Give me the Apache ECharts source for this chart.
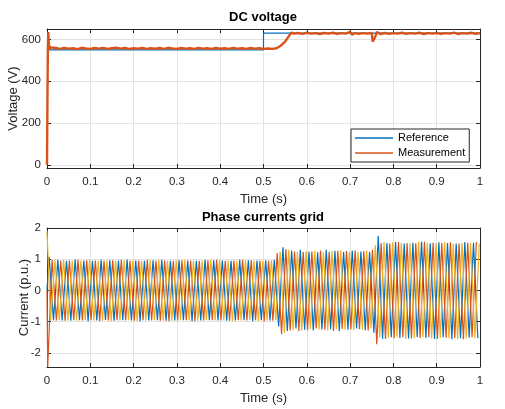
<!DOCTYPE html>
<html>
<head>
<meta charset="utf-8">
<script src="https://cdn.jsdelivr.net/npm/echarts@6/dist/echarts.min.js"></script>
<style>
  html, body { margin: 0; padding: 0; background: #fff; }
  #chart { width: 505px; height: 409px; }
</style>
</head>
<body>
<div id="chart"></div>
<script>
// DC voltage: reference step and measured voltage [time s, volts]
var dcReference = [[0, 550], [0.5, 550], [0.5, 630], [1, 630]];
var dcMeasurement = [
  [0, 0], [0.001, 300], [0.002, 560], [0.003, 635], [0.004, 590], [0.006, 552], [0.008, 562], [0.01, 556],
  [0.02, 559], [0.03, 555], [0.04, 560], [0.05, 556], [0.06, 558], [0.07, 554], [0.08, 560], [0.09, 557], [0.10, 555],
  [0.11, 559], [0.12, 556], [0.13, 560], [0.14, 555], [0.15, 558], [0.16, 561], [0.17, 556], [0.18, 559], [0.19, 555], [0.20, 558],
  [0.21, 556], [0.22, 560], [0.23, 555], [0.24, 558], [0.25, 556], [0.26, 559], [0.27, 555], [0.28, 560], [0.29, 557], [0.30, 555],
  [0.31, 559], [0.32, 556], [0.33, 558], [0.34, 555], [0.35, 560], [0.36, 556], [0.37, 558], [0.38, 555], [0.39, 559], [0.40, 556],
  [0.41, 558], [0.42, 555], [0.43, 560], [0.44, 556], [0.45, 558], [0.46, 555], [0.47, 559], [0.48, 556], [0.49, 558], [0.50, 555],
  [0.51, 557], [0.52, 555], [0.53, 558], [0.54, 570], [0.55, 590], [0.555, 605], [0.56, 620], [0.565, 633], [0.57, 628],
  [0.58, 631], [0.59, 627], [0.60, 632], [0.61, 628], [0.62, 630], [0.63, 626], [0.64, 631], [0.65, 628], [0.66, 632],
  [0.67, 627], [0.68, 630], [0.69, 628], [0.70, 636], [0.705, 622], [0.71, 631], [0.72, 627], [0.73, 630], [0.74, 628],
  [0.75, 631], [0.752, 590], [0.755, 584], [0.758, 612], [0.762, 636], [0.77, 626], [0.78, 631], [0.79, 627], [0.80, 630],
  [0.81, 628], [0.82, 632], [0.83, 627], [0.84, 630], [0.85, 628], [0.86, 632], [0.87, 626], [0.88, 630], [0.89, 628], [0.90, 631],
  [0.91, 627], [0.92, 630], [0.93, 628], [0.94, 633], [0.95, 626], [0.96, 630], [0.97, 628], [0.98, 632], [0.99, 627], [1.0, 630]
];

// grid currents: times of the half-cycle peaks of phase a (50 Hz), shift of each phase
var halfCycleT = [
  0.005, 0.015, 0.025, 0.035, 0.045, 0.055, 0.065, 0.075, 0.085, 0.095,
  0.105, 0.115, 0.125, 0.135, 0.145, 0.155, 0.165, 0.175, 0.185, 0.195,
  0.205, 0.215, 0.225, 0.235, 0.245, 0.255, 0.265, 0.275, 0.285, 0.295,
  0.305, 0.315, 0.325, 0.335, 0.345, 0.355, 0.365, 0.375, 0.385, 0.395,
  0.405, 0.415, 0.425, 0.435, 0.445, 0.455, 0.465, 0.475, 0.485, 0.495,
  0.505, 0.515, 0.525, 0.535, 0.545, 0.555, 0.565, 0.575, 0.585, 0.595,
  0.605, 0.615, 0.625, 0.635, 0.645, 0.655, 0.665, 0.675, 0.685, 0.695,
  0.705, 0.715, 0.725, 0.735, 0.745, 0.755, 0.765, 0.775, 0.785, 0.795,
  0.805, 0.815, 0.825, 0.835, 0.845, 0.855, 0.865, 0.875, 0.885, 0.895,
  0.905, 0.915, 0.925, 0.935, 0.945, 0.955, 0.965, 0.975, 0.985, 0.995
];
var phaseShift = [0, -0.00333, 0.00333];
var phaseStart = [0, 0, 1.9];   // value at t = 0

// peak values (p.u.) read per half cycle
var peaksA = [
  1.08, -0.95, 0.98, -0.96, 0.95, -0.97, 0.99, -0.95, 0.96, -0.98,
  0.95, -0.96, 0.98, -0.94, 0.97, -0.97, 0.96, -0.95, 0.99, -0.96,
  0.96, -0.98, 0.95, -0.96, 0.97, -0.95, 0.98, -0.97, 0.95, -0.96,
  0.97, -0.95, 0.96, -0.98, 0.95, -0.96, 0.98, -0.95, 0.97, -0.96,
  0.96, -0.97, 0.95, -0.96, 0.98, -0.95, 0.97, -0.98, 0.96, -0.95,
  0.97, -0.96, 0.98, -1.15, 1.38, -1.30, 1.28, -1.22, 1.30, -1.26,
  1.24, -1.28, 1.22, -1.25, 1.30, -1.24, 1.27, -1.30, 1.23, -1.26,
  1.28, -1.22, 1.25, -1.27, 1.24, -1.35, 1.75, -1.55, 1.52, -1.50,
  1.55, -1.52, 1.50, -1.54, 1.53, -1.50, 1.56, -1.52, 1.51, -1.55,
  1.54, -1.50, 1.52, -1.56, 1.50, -1.53, 1.55, -1.51, 1.53, -1.52
];
var peaksB = [
  -2.45, 0.98, -0.96, 0.95, -0.97, 0.96, -0.95, 0.98, -0.96, 0.97,
  -0.95, 0.96, -0.98, 0.95, -0.96, 0.97, -0.95, 0.98, -0.96, 0.95,
  -0.97, 0.96, -0.95, 0.98, -0.96, 0.95, -0.97, 0.96, -0.98, 0.95,
  -0.96, 0.97, -0.95, 0.96, -0.98, 0.95, -0.96, 0.97, -0.95, 0.98,
  -0.96, 0.95, -0.97, 0.96, -0.95, 0.98, -0.96, 0.97, -0.95, 0.96,
  -0.98, 0.95, -0.97, 1.20, -1.40, 1.32, -1.28, 1.25, -1.30, 1.24,
  -1.27, 1.25, -1.22, 1.28, -1.26, 1.24, -1.30, 1.27, -1.23, 1.26,
  -1.25, 1.29, -1.24, 1.26, -1.28, 1.30, -1.72, 1.52, -1.55, 1.50,
  -1.53, 1.55, -1.50, 1.52, -1.54, 1.51, -1.52, 1.56, -1.50, 1.53,
  -1.55, 1.52, -1.51, 1.54, -1.52, 1.50, -1.56, 1.53, -1.50, 1.55
];
var peaksC = [
  -0.96, 0.97, -0.95, 0.98, -0.96, 0.95, -0.97, 0.96, -0.95, 0.98,
  -0.96, 0.95, -0.97, 0.96, -0.98, 0.95, -0.96, 0.97, -0.95, 0.96,
  -0.98, 0.95, -0.96, 0.97, -0.95, 0.98, -0.96, 0.95, -0.97, 0.96,
  -0.95, 0.98, -0.96, 0.95, -0.97, 0.96, -0.95, 0.98, -0.96, 0.97,
  -0.95, 0.96, -0.98, 0.95, -0.96, 0.97, -0.95, 0.96, -0.98, 0.95,
  -0.96, 0.97, -0.95, 1.25, -1.35, 1.30, -1.27, 1.24, -1.28, 1.26,
  -1.23, 1.27, -1.25, 1.22, -1.28, 1.26, -1.24, 1.29, -1.25, 1.23,
  -1.27, 1.24, -1.26, 1.28, -1.22, 1.45, -1.50, 1.55, -1.52, 1.54,
  -1.50, 1.53, -1.55, 1.51, -1.52, 1.56, -1.50, 1.53, -1.54, 1.52,
  -1.51, 1.55, -1.53, 1.50, -1.56, 1.52, -1.54, 1.51, -1.53, 1.50
];

var phaseColors = ['#0072BD', '#D95319', '#EDB120'];
var axisColor = '#262626';
var gridColor = '#e3e3e3';
var font = 'Liberation Sans, Arial, sans-serif';

function phasePoints(peaks, p) {
  var pts = [[0, phaseStart[p]]];
  for (var i = 0; i < peaks.length; i++) {
    pts.push([halfCycleT[i] + phaseShift[p], peaks[i]]);
  }
  return pts;
}

var chart = echarts.init(document.getElementById('chart'), null, { renderer: 'canvas' });

function xAx(gi, pos) {
  var bottom = pos === 'bottom';
  return {
    type: 'value', gridIndex: gi, position: pos, min: 0, max: 1, interval: 0.1,
    name: bottom ? 'Time (s)' : '', nameLocation: 'middle', nameGap: 25, nameMoveOverlap: false,
    nameTextStyle: { color: axisColor, fontSize: 13, fontFamily: font },
    axisLine: { show: true, onZero: false, lineStyle: { color: axisColor, width: 1 } },
    axisTick: { show: true, inside: true, length: 4, lineStyle: { color: axisColor } },
    axisLabel: { show: bottom, color: axisColor, fontSize: 11.5, margin: 8, fontFamily: font },
    splitLine: { show: bottom, lineStyle: { color: gridColor, width: 1 } }
  };
}

function yAx(gi, pos, min, max, split, name, gap) {
  var left = pos === 'left';
  return {
    type: 'value', gridIndex: gi, position: pos, min: min, max: max, splitNumber: split,
    name: left ? name : '', nameLocation: 'middle', nameGap: gap, nameMoveOverlap: false,
    nameTextStyle: { color: axisColor, fontSize: 13, fontFamily: font },
    axisLine: { show: true, onZero: false, lineStyle: { color: axisColor, width: 1 } },
    axisTick: { show: true, inside: true, length: 4, lineStyle: { color: axisColor } },
    axisLabel: { show: left, color: axisColor, fontSize: 11.5, margin: 6, showMinLabel: false,
      showMaxLabel: max === 2, fontFamily: font },
    splitLine: { show: left, lineStyle: { color: gridColor, width: 1 } }
  };
}

var currentSeries = [peaksA, peaksB, peaksC].map(function (pk, p) {
  return {
    type: 'line', xAxisIndex: 2, yAxisIndex: 2, data: phasePoints(pk, p),
    symbol: 'none', lineStyle: { color: phaseColors[p], width: 1.2 }, z: 2 + p
  };
});

var option = {
  animation: false,
  backgroundColor: '#fff',
  textStyle: { fontFamily: font },
  title: [
    { text: 'DC voltage', left: 263, top: 11, padding: 0, textAlign: 'center',
      textStyle: { fontSize: 13, fontWeight: 'bold', color: '#000', fontFamily: font } },
    { text: 'Phase currents grid', left: 263, top: 211, padding: 0, textAlign: 'center',
      textStyle: { fontSize: 13, fontWeight: 'bold', color: '#000', fontFamily: font } }
  ],
  legend: {
    data: ['Reference', 'Measurement'], orient: 'vertical',
    left: 351, top: 129, padding: [2, 4, 2, 4], itemGap: 1,
    icon: 'rect', itemWidth: 38, itemHeight: 1.4,
    backgroundColor: '#fff', borderColor: axisColor, borderWidth: 1,
    textStyle: { fontSize: 11, color: '#000', height: 14, lineHeight: 14, fontFamily: font }
  },
  grid: [
    { left: 47, top: 29, width: 433, height: 139, containLabel: false, outerBoundsMode: 'none' },
    { left: 47, top: 228, width: 433, height: 139, containLabel: false, outerBoundsMode: 'none' }
  ],
  xAxis: [xAx(0, 'bottom'), xAx(0, 'top'), xAx(1, 'bottom'), xAx(1, 'top')],
  yAxis: [
    yAx(0, 'left', -15, 650, 3, 'Voltage (V)', 27),
    yAx(0, 'right', -15, 650, 3, '', 0),
    yAx(1, 'left', -2.45, 2, 4, 'Current (p.u.)', 16),
    yAx(1, 'right', -2.45, 2, 4, '', 0)
  ],
  series: [
    { name: 'Reference', type: 'line', xAxisIndex: 0, yAxisIndex: 0, data: dcReference,
      symbol: 'none', lineStyle: { color: '#0072BD', width: 1.2 }, itemStyle: { color: '#0072BD' }, z: 2 },
    { name: 'Measurement', type: 'line', xAxisIndex: 0, yAxisIndex: 0, data: dcMeasurement,
      symbol: 'none', lineStyle: { color: '#D95319', width: 2.4 }, itemStyle: { color: '#D95319' }, z: 3 }
  ].concat(currentSeries)
};

chart.setOption(option);
</script>
</body>
</html>
